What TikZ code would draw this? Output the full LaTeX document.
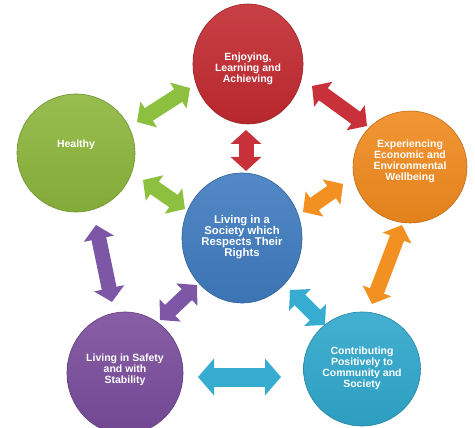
\documentclass[tikz,border=0pt]{standalone}
\usepackage{fontspec}
\setmainfont{Liberation Sans}
\usetikzlibrary{shapes.geometric,arrows.meta}
\definecolor{cred}{HTML}{C22A30}
\definecolor{cgreen}{HTML}{8CB63C}
\definecolor{corange}{HTML}{F08A1E}
\definecolor{cblue}{HTML}{3F7BBF}
\definecolor{cpurple}{HTML}{7A4C9C}
\definecolor{cteal}{HTML}{2FA7CC}
\definecolor{ared}{HTML}{C8303A}
\definecolor{agreen}{HTML}{8DC03F}
\definecolor{aorange}{HTML}{F39022}
\definecolor{apurple}{HTML}{7D56A6}
\definecolor{ateal}{HTML}{36ADD0}
\begin{document}
\begin{tikzpicture}[x=1pt,y=-1pt,
  ball/.style={ellipse, inner sep=0pt, draw=#1!80!black, line width=0.6pt,
    top color=#1!90!white, bottom color=#1!94!black},
  lbl/.style={text=white, font=\bfseries\fontsize{10.5}{10.9}\selectfont, align=center, inner sep=0pt},
  fat/.style={draw=#1, line width=15pt,
    {Triangle[width=30pt,length=14pt]}-{Triangle[width=30pt,length=14pt]}},
  fatter/.style={draw=#1, line width=19pt,
    {Triangle[width=36pt,length=16pt]}-{Triangle[width=36pt,length=16pt]}},
]
\useasboundingbox (0,0) rectangle (475,428);
\fill[white] (0,0) rectangle (475,428);

% circles
\node[ball=cred, minimum width=110pt, minimum height=120pt] (r) at (248,64) {};
\node[ball=cgreen, minimum width=118pt, minimum height=118pt] (h) at (76,153) {};
\node[ball=corange, minimum width=114pt, minimum height=112pt] (o) at (410,167) {};
\node[ball=cblue, minimum width=120pt, minimum height=130pt] (b) at (242,238) {};
\node[ball=cpurple, minimum width=116pt, minimum height=122pt] (p) at (125,373) {};
\node[ball=cteal, minimum width=117pt, minimum height=114pt] (t) at (362,369) {};

% labels
\node[lbl] (rl) at ([yshift=-5pt]r.center) {Enjoying,\\Learning and\\Achieving};
\node[lbl] (hl) at ([yshift=8pt]h.center) {Healthy};
\node[lbl] (ol) at ([yshift=6pt]o.center) {Experiencing\\Economic and\\Environmental\\Wellbeing};
\node[lbl, font=\bfseries\fontsize{11.3}{11.2}\selectfont] (bl) at ([yshift=1pt]b.center) {Living in a\\Society which\\Respects Their\\Rights};
\node[lbl] (pl) at ([yshift=3pt]p.center) {Living in Safety\\and with\\Stability};
\node[lbl] (tl) at ([yshift=1pt]t.center) {Contributing\\Positively to\\Community and\\Society};

% arrow end points
\coordinate (g1a) at (137,122); \coordinate (g1b) at (190,88);
\coordinate (g2a) at (143,180); \coordinate (g2b) at (185,209);
\coordinate (r1a) at (312,86);  \coordinate (r1b) at (367,126);
\coordinate (r2a) at (246,130); \coordinate (r2b) at (246,171);
\coordinate (o1a) at (303,212); \coordinate (o1b) at (343,184);
\coordinate (o2a) at (402,225); \coordinate (o2b) at (372,304);
\coordinate (t1a) at (290,290); \coordinate (t1b) at (325,325);
\coordinate (t2a) at (198,377); \coordinate (t2b) at (281,377);
\coordinate (p1a) at (160,320); \coordinate (p1b) at (197,285);
\coordinate (p2a) at (96,225);  \coordinate (p2b) at (112,302);

% arrows
\draw[fat=agreen] (g1a) -- (g1b);
\draw[fat=agreen] (g2a) -- (g2b);
\draw[fat=ared] (r1a) -- (r1b);
\draw[fat=ared] (r2a) -- (r2b);
\draw[fat=aorange] (o1a) -- (o1b);
\draw[fat=aorange] (o2a) -- (o2b);
\draw[fat=ateal] (t1a) -- (t1b);
\draw[fatter=ateal] (t2a) -- (t2b);
\draw[fat=apurple] (p1a) -- (p1b);
\draw[fat=apurple] (p2a) -- (p2b);
\end{tikzpicture}
\end{document}
